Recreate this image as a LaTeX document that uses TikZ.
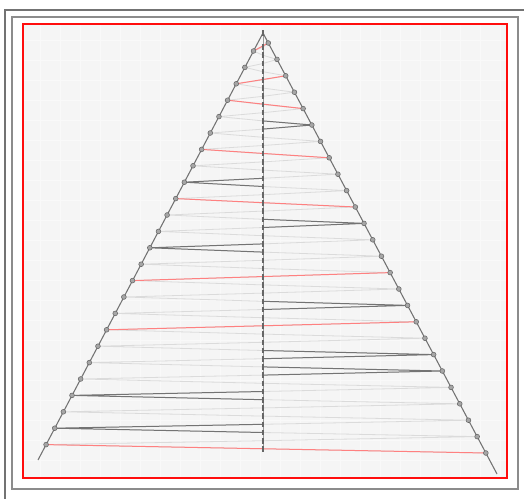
\documentclass[tikz,border=0pt]{standalone}
\usetikzlibrary{calc}

\tikzset{every picture/.style={line width=0.75pt}}
\tikzset{
  side/.style={draw=black!55, line width=0.8pt},
  sidedot/.style={circle, fill=black!35, draw=black!60, inner sep=0pt, minimum size=3.6pt, line width=0.4pt},
  middot/.style={rectangle, fill=black!60, inner sep=0pt, minimum width=1.8pt, minimum height=4.2pt},
  faint/.style={draw=black!14, line width=0.6pt},
  strong/.style={draw=black!55, line width=0.75pt},
  rung/.style={draw=red!50, line width=0.75pt},
}

\begin{document}
\begin{tikzpicture}[x=0.75pt,y=0.75pt,yscale=-1,xscale=1]
\useasboundingbox (0,0) rectangle (524,499);

% frames
\fill[white] (0,0) rectangle (524,499);
\draw[black!55, line width=1.1pt] (5,499) -- (5,10) -- (524,10);
\draw[black!45, line width=1.1pt] (12,17) rectangle (518,489);
\fill[black!4] (23,24) rectangle (507,478);
\draw[black!2.5, line width=0.4pt, step=20] (23,24) grid (507,478);
\draw[red!95!white, line width=2.2pt] (23,24) rectangle (507,478);

% apex, base ends, centre points
\coordinate (apex) at (263,33);
\coordinate (bl) at (38,460);
\coordinate (br) at (497,474);
\foreach \n in {0,...,49} {
  \coordinate (c\n) at (263,{47.1+8.2*\n});
}
% left and right chain points
\foreach \k in {0,...,24} {
  \pgfmathsetmacro{\yy}{51+16.4*\k}
  \coordinate (l\k) at ({263-0.527*(\yy-33)},\yy);
}
\foreach \k in {0,...,25} {
  \pgfmathsetmacro{\yy}{43+16.4*\k}
  \coordinate (r\k) at ({263+0.5306*(\yy-33)},\yy);
}

% faint fans to the middle
\foreach \k [evaluate=\k as \a using int(2*\k), evaluate=\k as \b using int(2*\k+1)] in {0,...,24} {
  \draw[faint] (c\a) -- (l\k) -- (c\b);
}
\draw[faint] (apex) -- (r0) -- (c0);
\foreach \k [evaluate=\k as \a using int(2*\k-1), evaluate=\k as \b using int(2*\k)] in {1,...,24} {
  \draw[faint] (c\a) -- (r\k) -- (c\b);
}
\draw[faint] (c49) -- (r25);

% dark fans
\draw[strong] (c9) -- (r5) -- (c10);
\draw[strong] (c16) -- (l8) -- (c17);
\draw[strong] (c21) -- (r11) -- (c22);
\draw[strong] (c24) -- (l12) -- (c25);
\draw[strong] (c31) -- (r16) -- (c32);
\draw[strong] (c37) -- (r19) -- (c38);
\draw[strong] (c39) -- (r20) -- (c40);
\draw[strong] (c42) -- (l21) -- (c43);
\draw[strong] (c46) -- (l23) -- (c47);

% red rungs
\draw[rung] (l0) -- (r0);
\draw[rung] (l2) -- (r2);
\draw[rung] (l3) -- (r4);
\draw[rung] (l6) -- (r7);
\draw[rung] (l9) -- (r10);
\draw[rung] (l14) -- (r14);
\draw[rung] (l17) -- (r17);
\draw[rung] (l24) -- (r25);

% sides and middle
\draw[side] (apex) -- (bl);
\draw[side] (apex) -- (br);
\draw[black!40, line width=0.4pt] (apex) -- (c49);

% markers
\node[middot] at (apex) {};
\foreach \n in {0,...,49} {
  \node[middot] at (c\n) {};
}
\foreach \k in {0,...,24} {
  \node[sidedot] at (l\k) {};
}
\foreach \k in {0,...,25} {
  \node[sidedot] at (r\k) {};
}

\end{tikzpicture}
\end{document}
